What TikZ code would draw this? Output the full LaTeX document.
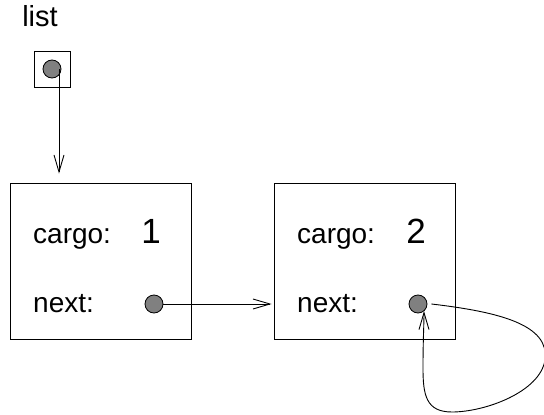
\documentclass[tikz,border=0pt]{standalone}
\usepackage{fontspec}
\setmainfont{Liberation Sans}
\usetikzlibrary{arrows.meta}
\definecolor{dotgray}{RGB}{128,128,128}
\tikzset{
  cell/.style={draw, line width=0.9pt, inner sep=0pt},
  dot/.style={circle, draw, line width=0.8pt, fill=dotgray, minimum size=18pt, inner sep=0pt},
  lbl/.style={inner sep=0pt, font=\fontsize{28}{30}\selectfont},
  val/.style={inner sep=0pt, font=\fontsize{35}{38}\selectfont},
  ptr/.style={line width=0.9pt, -{Straight Barb[length=17pt, width=10pt, line width=0.9pt]}}
}
\begin{document}
\begin{tikzpicture}[x=1pt, y=-1pt]
  \useasboundingbox (0,0) rectangle (544,415);

  % variable "list" holding a reference
  \node[lbl, anchor=base, font=\fontsize{29}{31}\selectfont] (name) at (40,27) {list};
  \node[cell, minimum width=36pt, minimum height=36pt] (head) at (52,69) {};
  \node[dot] (c0) at (52,69) {};

  % first node
  \node[cell, minimum width=181pt, minimum height=156pt] (n1) at (100.5,261) {};
  \node[lbl, anchor=base west] (cargo1) at (33,243) {cargo:};
  \node[val, anchor=base] (v1) at (151,243) {1};
  \node[lbl, anchor=base west] (next1) at (33,312) {next:};
  \node[dot] (c1) at (154,304) {};

  % second node
  \node[cell, minimum width=181pt, minimum height=156pt] (n2) at (364.5,261) {};
  \node[lbl, anchor=base west] (cargo2) at (297,243) {cargo:};
  \node[val, anchor=base] (v2) at (416,243) {2};
  \node[lbl, anchor=base west] (next2) at (297,312) {next:};
  \node[dot] (c2) at (418,304) {};

  % references
  \coordinate (h0) at ([xshift=7pt]c0.center);
  \coordinate (h1) at ([yshift=9pt]h0 |- n1.north);
  \draw[ptr] (h0) -- (h1);
  \draw[ptr] (c1.east) -- ([xshift=-2pt]n2.west |- c1.east);
  \coordinate (back) at ([shift={(6pt,-7pt)}]c2.center);
  \draw[ptr] ([xshift=4pt]c2.east)
        .. controls (500,312) and (550,325) .. (545,360)
        .. controls (540,392) and (485,412) .. (452,412)
        .. controls (426,412) and (423,395) .. (423,368)
        .. controls (423,340) and (424,325) .. (back);
\end{tikzpicture}
\end{document}
